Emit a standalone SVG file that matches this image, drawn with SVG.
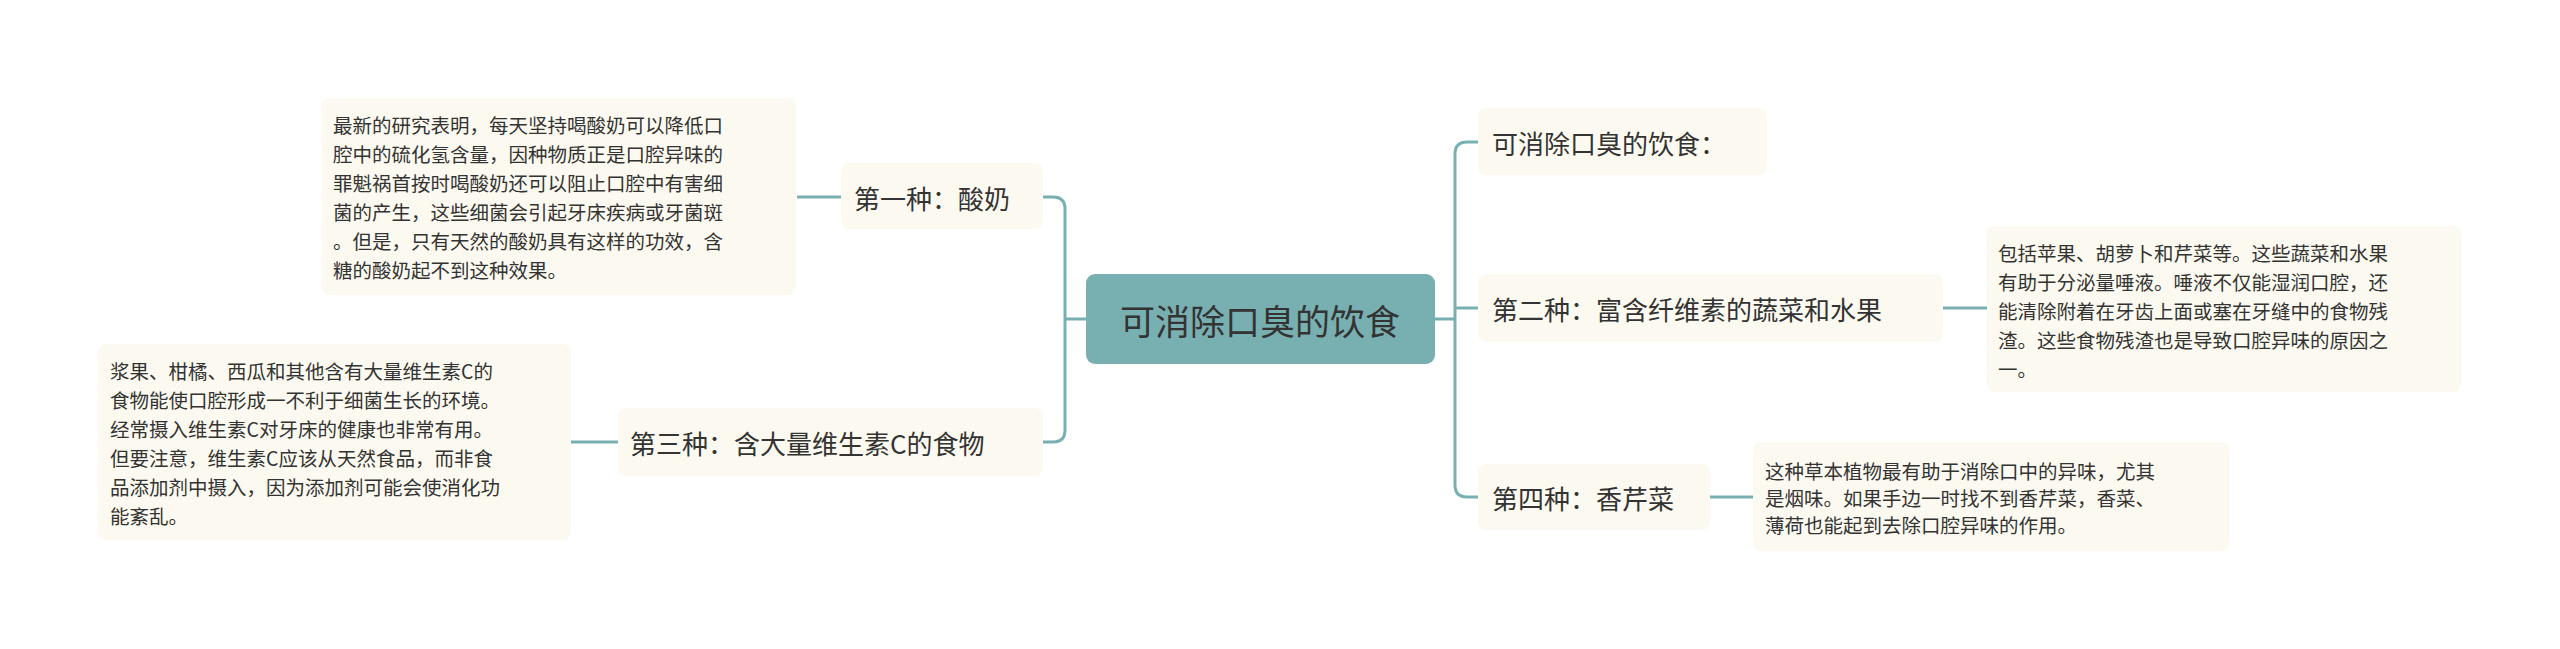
<svg xmlns="http://www.w3.org/2000/svg" width="2560" height="649" viewBox="0 0 2560 649">
<style>
.b{fill:#fcfaf0}
.t{font-family:"Noto Sans CJK SC","Noto Sans",sans-serif;fill:#333;dominant-baseline:central}
.c{font-size:26px}
.d{font-size:19.5px}
.l{fill:none;stroke:#78b0b2;stroke-width:3}
</style>
<rect width="2560" height="649" fill="#fff"/>
<g id="connectors">
<path class="l" d="M1086 319 H1065 M1043 197 H1053 Q1065 197 1065 209 V430 Q1065 442 1053 442 H1043"/>
<path class="l" d="M841 197 H797 M618 442 H571"/>
<path class="l" d="M1435 319 H1455 M1478 142 H1467 Q1455 142 1455 154 V485 Q1455 497 1467 497 H1478 M1455 308 H1478"/>
<path class="l" d="M1943 308 H1987 M1710 497 H1753"/>
</g>
<g id="root"><rect x="1086" y="274" width="349" height="90" rx="9" fill="#78b0b2"/><text class="t" x="1260" y="319" font-size="35" text-anchor="middle">可消除口臭的饮食</text></g>
<g id="n1"><rect class="b" x="841" y="163" width="202" height="66" rx="8"/><text class="t c" x="854" y="197">第一种：酸奶</text></g>
<g id="d1"><rect class="b" x="322" y="98" width="474" height="197" rx="8"/><text class="t d" x="333"><tspan x="333" y="124">最新的研究表明，每天坚持喝酸奶可以降低口</tspan><tspan x="333" y="153">腔中的硫化氢含量，因种物质正是口腔异味的</tspan><tspan x="333" y="182">罪魁祸首按时喝酸奶还可以阻止口腔中有害细</tspan><tspan x="333" y="211">菌的产生，这些细菌会引起牙床疾病或牙菌斑</tspan><tspan x="333" y="240">。但是，只有天然的酸奶具有这样的功效，含</tspan><tspan x="333" y="269">糖的酸奶起不到这种效果。</tspan></text></g>
<g id="n3"><rect class="b" x="618" y="408" width="425" height="68" rx="8"/><text class="t c" x="630" y="442">第三种：含大量维生素C的食物</text></g>
<g id="d3"><rect class="b" x="98" y="344" width="473" height="196" rx="8"/><text class="t d"><tspan x="110" y="370">浆果、柑橘、西瓜和其他含有大量维生素C的</tspan><tspan x="110" y="399">食物能使口腔形成一不利于细菌生长的环境。</tspan><tspan x="110" y="428">经常摄入维生素C对牙床的健康也非常有用。</tspan><tspan x="110" y="457">但要注意，维生素C应该从天然食品，而非食</tspan><tspan x="110" y="486">品添加剂中摄入，因为添加剂可能会使消化功</tspan><tspan x="110" y="515">能紊乱。</tspan></text></g>
<g id="r1"><rect class="b" x="1478" y="108" width="289" height="67" rx="8"/><text class="t c" x="1492" y="142">可消除口臭的饮食：</text></g>
<g id="r2"><rect class="b" x="1478" y="274" width="465" height="68" rx="8"/><text class="t c" x="1492" y="308">第二种：富含纤维素的蔬菜和水果</text></g>
<g id="dr2"><rect class="b" x="1987" y="226" width="474" height="166" rx="8"/><text class="t d"><tspan x="1998" y="252">包括苹果、胡萝卜和芹菜等。这些蔬菜和水果</tspan><tspan x="1998" y="281">有助于分泌量唾液。唾液不仅能湿润口腔，还</tspan><tspan x="1998" y="310">能清除附着在牙齿上面或塞在牙缝中的食物残</tspan><tspan x="1998" y="339">渣。这些食物残渣也是导致口腔异味的原因之</tspan><tspan x="1998" y="368">一。</tspan></text></g>
<g id="r4"><rect class="b" x="1478" y="464" width="232" height="66" rx="8"/><text class="t c" x="1492" y="497">第四种：香芹菜</text></g>
<g id="dr4"><rect class="b" x="1753" y="442" width="476" height="109" rx="8"/><text class="t d"><tspan x="1765" y="470">这种草本植物最有助于消除口中的异味，尤其</tspan><tspan x="1765" y="497">是烟味。如果手边一时找不到香芹菜，香菜、</tspan><tspan x="1765" y="524">薄荷也能起到去除口腔异味的作用。</tspan></text></g>
</svg>
